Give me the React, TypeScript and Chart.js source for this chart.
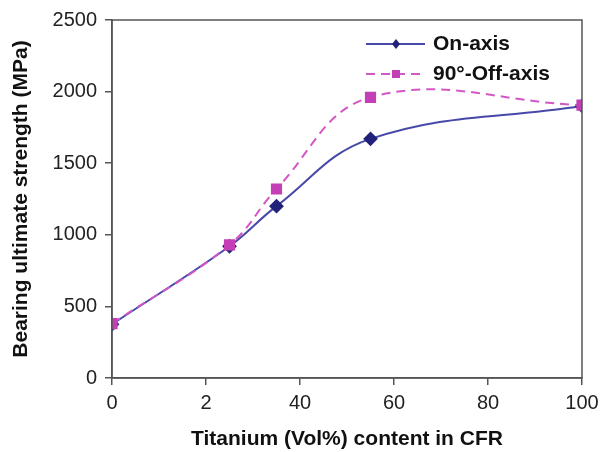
import React, { useEffect, useRef } from "react";
import { Chart, registerables } from "chart.js";

Chart.register(...registerables);

const xValues = [0, 25, 35, 55, 100];
const onAxis = [375, 920, 1200, 1670, 1900];
const offAxis = [380, 930, 1320, 1960, 1905];
const xTickValues = [0, 20, 40, 60, 80, 100];
const xTickLabels = ["0", "2", "40", "60", "80", "100"];
const yTickLabels = ["0", "500", "1000", "1500", "2000", "2500"];
const seriesLabels = ["On-axis", "90°-Off-axis"];

const FONT = "'Liberation Sans', Arial, Helvetica, sans-serif";

const insideLegend = {
  id: "insideLegend",
  afterDraw(chart: any) {
    const ctx = chart.ctx;
    const area = chart.chartArea;
    const x0 = area.left + 254;
    const rows = [area.top + 24, area.top + 54];
    chart.data.datasets.forEach((ds: any, i: number) => {
      const y = rows[i];
      ctx.save();
      ctx.strokeStyle = ds.borderColor;
      ctx.lineWidth = 2;
      ctx.setLineDash(ds.borderDash || []);
      ctx.beginPath();
      ctx.moveTo(x0, y);
      ctx.lineTo(x0 + 59, y);
      ctx.stroke();
      ctx.setLineDash([]);
      ctx.fillStyle = ds.pointBackgroundColor;
      const cx = x0 + 30;
      if (ds.pointStyle === "rectRot") {
        ctx.beginPath();
        ctx.moveTo(cx, y - 5);
        ctx.lineTo(cx + 4, y);
        ctx.lineTo(cx, y + 5);
        ctx.lineTo(cx - 4, y);
        ctx.closePath();
        ctx.fill();
      } else {
        ctx.fillRect(cx - 4, y - 4, 8, 8);
      }
      ctx.fillStyle = "#111";
      ctx.font = `bold 21px ${FONT}`;
      ctx.textBaseline = "middle";
      ctx.textAlign = "left";
      ctx.fillText(ds.label, x0 + 67, y);
      ctx.restore();
    });
  },
};

const frame = {
  id: "frame",
  afterDatasetsDraw(chart: any) {
    const ctx = chart.ctx;
    const a = chart.chartArea;
    ctx.save();
    ctx.strokeStyle = "#555";
    ctx.lineWidth = 1.5;
    ctx.strokeRect(a.left, a.top, a.right - a.left, a.bottom - a.top);
    ctx.restore();
  },
};

export default function App() {
  const ref = useRef<HTMLCanvasElement>(null);
  useEffect(() => {
    document.body.style.margin = "0";
    const chart = new Chart(ref.current!, {
      type: "line",
      data: {
        datasets: [
          {
            label: seriesLabels[0],
            data: xValues.map((x, i) => ({ x, y: onAxis[i] })),
            borderColor: "#4848a8",
            backgroundColor: "#22227a",
            pointBackgroundColor: "#22227a",
            pointBorderColor: "#22227a",
            pointStyle: "rectRot",
            pointRadius: 6,
            borderWidth: 2,
            tension: 0.4,
            order: 1,
          },
          {
            label: seriesLabels[1],
            data: xValues.map((x, i) => ({ x, y: offAxis[i] })),
            borderColor: "#d457c6",
            backgroundColor: "#c43fb6",
            pointBackgroundColor: "#c43fb6",
            pointBorderColor: "#c43fb6",
            pointStyle: "rect",
            pointRadius: 6.5,
            borderWidth: 2,
            borderDash: [9, 6],
            tension: 0.4,
            order: 0,
          },
        ],
      },
      options: {
        animation: false,
        responsive: false,
        maintainAspectRatio: false,
        layout: { padding: { top: 19, right: 20, left: 0, bottom: 0 } },
        plugins: { legend: { display: false }, tooltip: { enabled: false } },
        scales: {
          x: {
            type: "linear",
            min: 0,
            max: 100,
            afterBuildTicks: (s: any) => {
              s.ticks = xTickValues.map((v) => ({ value: v }));
            },
            afterFit: (s: any) => {
              s.height = 74;
              s.paddingRight = 0;
              s.paddingLeft = 0;
            },
            ticks: {
              color: "#222",
              font: { family: FONT, size: 20 },
              padding: 6,
              maxRotation: 0,
              callback: (v: any) => {
                const i = xTickValues.indexOf(Number(v));
                return i >= 0 ? xTickLabels[i] : "";
              },
            },
            grid: { drawOnChartArea: false, tickLength: 7, color: "#555", lineWidth: 1.5 },
            border: { color: "#555", width: 1.5 },
            title: {
              display: true,
              text: "Titanium (Vol%) content in CFR",
              color: "#111",
              font: { family: FONT, size: 21, weight: "bold" },
              padding: { top: 11, bottom: 0 },
            },
          },
          y: {
            min: 0,
            max: 2500,
            afterFit: (s: any) => {
              s.width = 112;
            },
            ticks: {
              stepSize: 500,
              color: "#222",
              font: { family: FONT, size: 20 },
              padding: 8,
              callback: (v: any) => yTickLabels[Math.round(Number(v) / 500)] ?? "",
            },
            grid: { drawOnChartArea: false, tickLength: 7, color: "#555", lineWidth: 1.5 },
            border: { color: "#555", width: 1.5 },
            title: {
              display: true,
              text: "Bearing ultimate strength (MPa)",
              color: "#111",
              font: { family: FONT, size: 21, weight: "bold" },
              padding: { top: 9, bottom: 0 },
            },
          },
        },
      } as any,
      plugins: [frame, insideLegend],
    });
    return () => chart.destroy();
  }, []);
  return (
    <div style={{ width: 602, height: 452 }}>
      <canvas ref={ref} width={602} height={452} style={{ display: "block" }} />
    </div>
  );
}
